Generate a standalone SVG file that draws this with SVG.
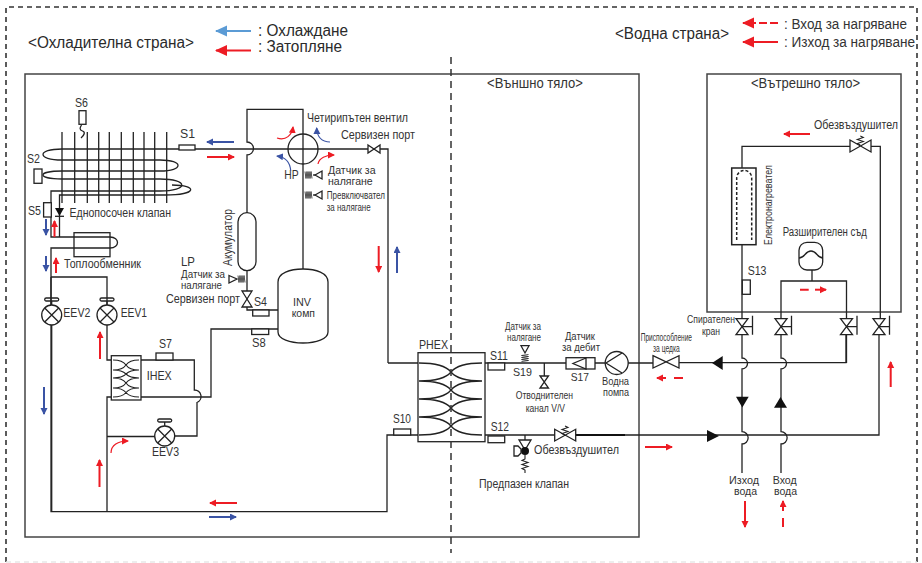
<svg xmlns="http://www.w3.org/2000/svg" width="922" height="563" viewBox="0 0 922 563">
<style>
text{font-family:"Liberation Sans",Arial,sans-serif;fill:#333;font-size:12px}
.l{font-size:16px;fill:#2a2a2a}
.m{font-size:14px}
.h{font-size:14px}
.c{font-size:11px}
.s{font-size:10.300px}
.p{fill:none;stroke:#222;stroke-width:1.3}
.t{fill:none;stroke:#222;stroke-width:1.1}
.b{fill:none;stroke:#444;stroke-width:1.5}
.w{fill:#fff;stroke:#222;stroke-width:1.3}
.k{fill:#111;stroke:none}
.d{fill:none;stroke:#333;stroke-width:1.6;stroke-dasharray:5 4}
.r{fill:none;stroke:#ed1c24;stroke-width:2;marker-end:url(#ar)}
.u{fill:none;stroke:#3a53a4;stroke-width:2;marker-end:url(#au)}
.rc{fill:none;stroke:#ed1c24;stroke-width:1.2;marker-end:url(#ar)}
.uc{fill:none;stroke:#3a53a4;stroke-width:1.2;marker-end:url(#au)}
.rd{stroke:#ed1c24;stroke-width:2;fill:none}
</style>
<defs>
<marker id="ar" markerUnits="userSpaceOnUse" markerWidth="9" markerHeight="8" refX="6" refY="3.5" orient="auto"><path d="M0 0L7 3.5L0 7Z" fill="#ed1c24"/></marker>
<marker id="au" markerUnits="userSpaceOnUse" markerWidth="9" markerHeight="8" refX="6" refY="3.5" orient="auto"><path d="M0 0L7 3.5L0 7Z" fill="#3a53a4"/></marker>
<marker id="lr" markerUnits="userSpaceOnUse" markerWidth="14" markerHeight="12" refX="11" refY="5.5" orient="auto"><path d="M0 0L12 5.5L0 11Z" fill="#ed1c24"/></marker>
<marker id="lb" markerUnits="userSpaceOnUse" markerWidth="14" markerHeight="12" refX="11" refY="5.5" orient="auto"><path d="M0 0L12 5.5L0 11Z" fill="#5b9bd5"/></marker>
<path id="vh" d="M-6-4L6 4V-4L-6 4Z" class="w"/>
<path id="vv" d="M-5-8L5 8H-5L5-8Z" class="w"/>
<path id="coil" d="M0-3.5l1 7l1-7l1 7l1-7l1 7l1-7l1 7" fill="none" stroke="#222" stroke-width=".8"/>
<g id="eev"><circle r="10" class="w"/><path d="M-7-7L7 7M7-7L-7 7M0-10V-14" class="p"/><rect x="-7" y="-17" width="14" height="3" rx="1.5" class="p"/></g>
<g id="stop"><path d="M-6-8L6 8H-6L6-8Z" class="w"/><path d="M0 0H10.500M10.500-11V8" class="p"/></g>
<path id="spr" d="M0 0l-3-1.500l6-2l-6-2l6-2l-3-1.500" class="t"/>
</defs>

<g id="frames">
<path class="d" d="M6 562V7H917V562"/>
<path d="M6 562H917" fill="none" stroke="#e8e8e8" stroke-width="1.400" stroke-dasharray="5 4"/>
<rect x="25" y="74" width="614" height="463" class="b"/>
<rect x="707" y="74" width="194" height="238" class="b"/>
</g>

<g id="connectors">
<path class="p" d="M388 363V149H62C36.700 149 36.700 160 62 160H160C184 160 184 171 160 171H62C36.700 171 36.700 179 62 179H160C189 179 189 191 160 191H51V237H74H110C120 237 120 248 110 248H51V511.700H387V435H418"/>
<path class="p" d="M172 185C198 185 198 195 165 195H59.500V237"/>
<path class="p" d="M51 277H107V305M51 277V305M51.700 325V511.700M107 325V360H111M141 360H194.300V390A6.500 6.500 0 0 1 197 402.500V436H175M155 436.500H107V397H111M107 436V511.700M141 397H211V329H278"/>
<path class="p" d="M247 213V155A6.500 6.500 0 0 0 247 142V109.300H303V269M247 271V310H278"/>
<path class="p" d="M418 363H388M485 363H566M595 363H605M628 363H653M679 362.700H846V335M544.300 363V376"/>
<path class="p" d="M485 435H555M576 435H879V335"/>
<path stroke="#111" stroke-width="1.800" d="M576 435H625"/>
<path class="p" d="M742 168V146.300H850M871 146.300H880.300V318M742 245V318M742 335V358A5.500 5.500 0 0 1 742 369V431.700A6 6 0 0 1 742 444V473"/>
<path class="p" d="M781 318V281H846.500V318M812 270V281M781 335V358A5.500 5.500 0 0 1 781 369V431.700A6 6 0 0 1 781 444V473M846.500 335V363"/>
</g>

<g id="coil-fins"><path class="p" d="M62 132V203M74.700 132V203M87.300 132V203M98.700 132V203M109.300 132V203M121.300 132V203M133.300 132V203M144 132V203M154.700 132V203M166.700 132V203"/></g>

<g id="s6"><rect x="79" y="110.700" width="7" height="13.600" class="w"/><path class="p" d="M81.500 125c-2 3-2 5 1 6c3 1 2 4-1.500 7"/><text x="75" y="106.700" textLength="13" lengthAdjust="spacingAndGlyphs">S6</text></g>
<g id="s1"><rect x="179" y="145" width="16" height="5" class="w"/><text x="180" y="137.700" textLength="15" lengthAdjust="spacingAndGlyphs">S1</text></g>
<g id="s2"><rect x="34" y="169" width="8" height="14.300" class="w"/><text x="27" y="162.700" textLength="13" lengthAdjust="spacingAndGlyphs">S2</text></g>
<g id="s5"><rect x="43.600" y="202.700" width="7.700" height="14.300" class="w"/><text x="28" y="215" textLength="13" lengthAdjust="spacingAndGlyphs">S5</text></g>
<g id="check-valve"><path class="k" d="M55 208H64L59.500 216Z"/><path class="p" d="M55 216.300H64"/><text x="69.500" y="216.700" textLength="101.500" lengthAdjust="spacingAndGlyphs">Еднопосочен клапан</text></g>
<g id="heat-exchanger"><rect x="74" y="232.700" width="36" height="24" fill="none" stroke="#222" stroke-width="1.300"/><text x="64" y="268" textLength="77" lengthAdjust="spacingAndGlyphs">Топлообменник</text></g>
<g id="eev2"><use href="#eev" x="51.700" y="315"/><text x="63.300" y="316.700" textLength="27" lengthAdjust="spacingAndGlyphs">EEV2</text></g>
<g id="eev1"><use href="#eev" x="107" y="315"/><text x="120.700" y="316.700" textLength="26.300" lengthAdjust="spacingAndGlyphs">EEV1</text></g>
<g id="eev3"><use href="#eev" x="164.700" y="436"/><text x="152" y="455.700" textLength="27" lengthAdjust="spacingAndGlyphs">EEV3</text></g>
<g id="ihex"><rect x="111.300" y="355.700" width="29.700" height="44.300" class="w"/><path class="t" d="M113 360C121 360 124 362 126 365C128 368 131 370 139 370M113 370C121 370 124 368 126 365C128 362 131 360 139 360M113 370C121 370 124 372 126 374C128 376 131 378 139 378M113 378C121 378 124 376 126 374C128 372 131 370 139 370M113 378C121 378 124 380 126 383C128 386 131 388 139 388M113 388C121 388 124 386 126 383C128 380 131 378 139 378M113 388C121 388 124 390 126 392.500C128 395 131 397 139 397M113 397C121 397 124 395 126 392.500C128 390 131 388 139 388"/><text x="146.700" y="380" textLength="25" lengthAdjust="spacingAndGlyphs">IHEX</text></g>
<g id="s7"><rect x="156" y="353" width="17" height="7" class="w"/><text x="159" y="348" textLength="13" lengthAdjust="spacingAndGlyphs">S7</text></g>
<g id="s8"><rect x="251.700" y="329" width="17" height="5.500" class="w"/><text x="252" y="346.700" textLength="13.700" lengthAdjust="spacingAndGlyphs">S8</text></g>
<g id="s4"><rect x="252.700" y="310" width="16.300" height="6" class="w"/><text x="254" y="305.700" textLength="13" lengthAdjust="spacingAndGlyphs">S4</text></g>
<g id="accumulator"><rect x="238" y="212.700" width="18" height="58" rx="9" class="w"/><text transform="translate(231.500 266) rotate(-90)" textLength="57" lengthAdjust="spacingAndGlyphs">Акумулатор</text></g>
<g id="lp-sensor"><path class="w" d="M229 275.500L237 279L229 283Z"/><use href="#coil" x="238" y="279"/><text x="181" y="266" textLength="14" lengthAdjust="spacingAndGlyphs">LP</text><text x="181" y="278" class="c" textLength="44" lengthAdjust="spacingAndGlyphs">Датчик за</text><text x="181" y="289" class="c" textLength="41" lengthAdjust="spacingAndGlyphs">налягане</text></g>
<g id="service-port-lp"><use href="#vv" x="247" y="299"/><text x="166" y="302.700" textLength="74" lengthAdjust="spacingAndGlyphs">Сервизен порт</text></g>
<g id="compressor"><path class="w" d="M278 282C278 273 290 269 303 269C316 269 328 273 328 282V332C328 339 316 343 303 343C290 343 278 339 278 332Z"/><text x="293" y="306" class="c" textLength="18" lengthAdjust="spacingAndGlyphs">INV</text><text x="291.700" y="317" class="s" textLength="23.300" lengthAdjust="spacingAndGlyphs">комп</text></g>
<g id="four-way-valve"><circle cx="303" cy="149" r="15" fill="none" stroke="#222" stroke-width="1.300"/><text x="307" y="122" textLength="101" lengthAdjust="spacingAndGlyphs">Четирипътен вентил</text></g>
<g id="service-port-hp"><use href="#vh" x="374" y="149"/><text x="341" y="139" textLength="74" lengthAdjust="spacingAndGlyphs">Сервизен порт</text></g>
<g id="hp-sensor"><use href="#coil" x="305" y="175"/><path class="p" d="M313 175H316"/><path class="w" d="M315 175L322 171V179Z"/><text x="284.300" y="179" textLength="14.400" lengthAdjust="spacingAndGlyphs">HP</text><text x="328" y="174" class="c" textLength="47.600" lengthAdjust="spacingAndGlyphs">Датчик за</text><text x="328" y="185" class="c" textLength="44.700" lengthAdjust="spacingAndGlyphs">налягане</text></g>
<g id="pressure-switch"><use href="#coil" x="305" y="195"/><path class="p" d="M313 195H316"/><path class="w" d="M315 195L322 191V199Z"/><text x="326.700" y="199" class="s" textLength="58.300" lengthAdjust="spacingAndGlyphs">Превключвател</text><text x="326.700" y="210.700" class="s" textLength="44" lengthAdjust="spacingAndGlyphs">за налягане</text></g>
<g id="phex"><rect x="418" y="352.700" width="67" height="89" class="w"/><path class="p" d="M419 363C437 363 447 367 451 372C455 377 465 381 482 381M419 381C437 381 447 377 451 372C455 367 465 363 482 363M419 381C437 381 447 385 451 390C455 395 465 399 482 399M419 399C437 399 447 395 451 390C455 385 465 381 482 381M419 399C437 399 447 403 451 408C455 413 465 417 482 417M419 417C437 417 447 413 451 408C455 403 465 399 482 399M419 417C437 417 447 421 451 426C455 431 465 435 482 435M419 435C437 435 447 431 451 426C455 421 465 417 482 417"/><text x="419" y="349" textLength="29" lengthAdjust="spacingAndGlyphs">PHEX</text></g>
<g id="s10"><rect x="393.700" y="429" width="17" height="6" class="w"/><text x="393" y="423" textLength="18" lengthAdjust="spacingAndGlyphs">S10</text></g>
<g id="s11"><rect x="488" y="363" width="16.700" height="7" class="w"/><text x="490" y="360" textLength="18" lengthAdjust="spacingAndGlyphs">S11</text></g>
<g id="s12"><rect x="488" y="436" width="16.700" height="6.700" class="w"/><text x="490.700" y="430.700" textLength="18.300" lengthAdjust="spacingAndGlyphs">S12</text></g>
<g id="s19-sensor"><path class="w" d="M521 345.700H529L525 353Z"/><use href="#coil" transform="translate(525 354.500) rotate(90)"/><text x="505" y="330" class="s" textLength="36" lengthAdjust="spacingAndGlyphs">Датчик за</text><text x="507" y="340.700" class="s" textLength="34" lengthAdjust="spacingAndGlyphs">налягане</text><text x="513" y="375.700" class="c" textLength="19" lengthAdjust="spacingAndGlyphs">S19</text></g>
<g id="drain"><path class="w" d="M540 376H548.500L540 388H548.500Z"/><text x="515.700" y="399" class="s" textLength="57.300" lengthAdjust="spacingAndGlyphs">Отводнителен</text><text x="525.700" y="411.700" class="s" textLength="39.300" lengthAdjust="spacingAndGlyphs">канал V/V</text></g>
<g id="s17"><rect x="566" y="357.700" width="29" height="11.300" class="w"/><path class="p" d="M586 358L573 363.500L586 369Z"/><text x="565" y="340" class="c" textLength="30" lengthAdjust="spacingAndGlyphs">Датчик</text><text x="562" y="350.700" class="c" textLength="38" lengthAdjust="spacingAndGlyphs">за дебит</text><text x="570.700" y="381" class="c" textLength="18.300" lengthAdjust="spacingAndGlyphs">S17</text></g>
<g id="pump"><circle cx="616.700" cy="363" r="11.500" class="w"/><path class="p" d="M622 353L606 363L622 373"/><text x="602" y="385" class="c" textLength="27" lengthAdjust="spacingAndGlyphs">Водна</text><text x="603" y="396" class="c" textLength="26" lengthAdjust="spacingAndGlyphs">помпа</text></g>
<g id="air-vent-outdoor"><path class="w" d="M554.700 429.300L575.700 441V429.300L554.700 441Z"/><use href="#spr" x="565" y="435"/><text x="534" y="454" textLength="85" lengthAdjust="spacingAndGlyphs">Обезвъздушител</text></g>
<g id="safety-valve"><path class="p" d="M525 435V440"/><path class="w" d="M519 440H531L525 450Z"/><circle cx="525" cy="451" r="4" class="k"/><path class="w" d="M514 446H518L521 449V453L518 456H514Z"/><path class="t" d="M525 455V459l-3 1.500l6 2l-6 2l6 2l-6 2l3 1.500V473"/><text x="479" y="487.700" textLength="90" lengthAdjust="spacingAndGlyphs">Предпазен клапан</text></g>
<g id="strainer"><path class="w" d="M653 355.700L679 368V355.700L653 368Z"/><text x="640.700" y="340.700" class="s" textLength="51.300" lengthAdjust="spacingAndGlyphs">Приспособление</text><text x="653" y="351.700" class="s" textLength="26.700" lengthAdjust="spacingAndGlyphs">за цедка</text></g>
<g id="shutoff-valves"><use href="#stop" x="742" y="326.700"/><use href="#stop" x="781" y="326.700"/><use href="#stop" x="846.500" y="326.700"/><use href="#stop" x="879" y="326.700"/><text x="687" y="322.500" class="s" textLength="48" lengthAdjust="spacingAndGlyphs">Спирателен</text><text x="702" y="335" class="s" textLength="18" lengthAdjust="spacingAndGlyphs">кран</text></g>
<g id="flow-triangles"><path class="k" d="M712 363L722.700 356V370Z"/><path class="k" d="M719 436L707 430V442Z"/><path class="k" d="M736 396.700H748.700L742.300 407.500Z"/><path class="k" d="M774 407.700H787L780.500 397Z"/></g>
<g id="water-out"><text x="729" y="484" class="c" textLength="30" lengthAdjust="spacingAndGlyphs">Изход</text><text x="734" y="495" class="c" textLength="23" lengthAdjust="spacingAndGlyphs">вода</text></g>
<g id="water-in"><text x="772.700" y="484" class="c" textLength="24" lengthAdjust="spacingAndGlyphs">Вход</text><text x="774" y="495" class="c" textLength="23" lengthAdjust="spacingAndGlyphs">вода</text></g>
<g id="heater"><rect x="731.700" y="168" width="24.300" height="76.700" fill="none" stroke="#222" stroke-width="1.500"/><path d="M736.700 240V178A7.500 7.500 0 0 1 751.700 178V240" fill="none" stroke="#222" stroke-width="1.500" stroke-dasharray="3 2"/><text transform="translate(771.500 245) rotate(-90)" class="c" textLength="80" lengthAdjust="spacingAndGlyphs">Електронагревател</text></g>
<g id="air-vent-indoor"><path class="w" d="M850 140L871 152V140L850 152Z"/><use href="#spr" x="860.300" y="145"/><text x="814" y="129" textLength="84" lengthAdjust="spacingAndGlyphs">Обезвъздушител</text></g>
<g id="expansion-vessel"><rect x="799" y="242.300" width="23.700" height="27.700" rx="8" class="w"/><path class="p" d="M799 258C805 258 805 251 811 251C817 251 817 258 823 258"/><text x="782.700" y="236" textLength="84.300" lengthAdjust="spacingAndGlyphs">Разширителен съд</text></g>
<g id="s13"><rect x="742.300" y="280" width="8" height="14.300" class="w"/><text x="747.700" y="275" textLength="18.800" lengthAdjust="spacingAndGlyphs">S13</text></g>

<g id="flow-arrows">
<path class="u" d="M234 142H207"/><path class="r" d="M207 157H234"/>
<path class="u" d="M46 219V235"/><path class="r" d="M54.500 237V221"/><path class="u" d="M46 256V271"/><path class="r" d="M56 273V258"/>
<path class="r" d="M100 359V332"/><path class="u" d="M44 387V414"/><path class="r" d="M99.500 487V460"/>
<path class="r" d="M237 503H210"/><path class="u" d="M209 517H236"/>
<path class="r" d="M378.700 246V272"/><path class="u" d="M397 273V247"/>
<path class="rc" d="M277 138C286 141 292 135 293 127"/><path class="uc" d="M330 142C322 142 317 137 316.700 128"/>
<path class="uc" d="M290.700 170.700C290 162 285 157 277 156"/><path class="rc" d="M318 164C319 158 326 155 334 155"/>
<path class="rc" d="M111 453C111 445 118 441 128 441"/>
<path class="r" d="M810 134H784"/><path class="r" d="M890.700 387V362"/><path class="r" d="M645 447H672"/>
<path class="r" d="M745 501V527"/>
<path class="rd" d="M674 378H683M800 289.700H808.700M783 527V518"/>
<path class="r" d="M666 378H657"/><path class="r" d="M815 289.700H826"/><path class="r" d="M783 511V501"/>
</g>

<g id="legend">
<path d="M251 31H216" fill="none" stroke="#5b9bd5" stroke-width="2" marker-end="url(#lb)"/>
<path d="M251 50.500H216" fill="none" stroke="#ed1c24" stroke-width="2" marker-end="url(#lr)"/>
<path d="M778 23H743" fill="none" stroke="#ed1c24" stroke-width="2" stroke-dasharray="8 3" marker-end="url(#lr)"/>
<path d="M778 42H743" fill="none" stroke="#ed1c24" stroke-width="2" marker-end="url(#lr)"/>
<text x="28" y="48" class="l" textLength="166" lengthAdjust="spacingAndGlyphs">&lt;Охладителна страна&gt;</text>
<text x="258" y="36" class="l" textLength="90" lengthAdjust="spacingAndGlyphs">: Охлаждане</text>
<text x="258" y="52" class="l" textLength="84" lengthAdjust="spacingAndGlyphs">: Затопляне</text>
<text x="615" y="39" class="l" textLength="114" lengthAdjust="spacingAndGlyphs">&lt;Водна страна&gt;</text>
<text x="784" y="29" class="m" textLength="123" lengthAdjust="spacingAndGlyphs">: Вход за нагряване</text>
<text x="784" y="47" class="m" textLength="131" lengthAdjust="spacingAndGlyphs">: Изход за нагряване</text>
<text x="487" y="88" class="h" textLength="96" lengthAdjust="spacingAndGlyphs">&lt;Външно тяло&gt;</text>
<text x="751" y="88" class="h" textLength="109" lengthAdjust="spacingAndGlyphs">&lt;Вътрешно тяло&gt;</text>
</g>
<path id="divider" d="M451 57V553" fill="none" stroke="#333" stroke-width="1.500" stroke-dasharray="7 5"/>
</svg>
